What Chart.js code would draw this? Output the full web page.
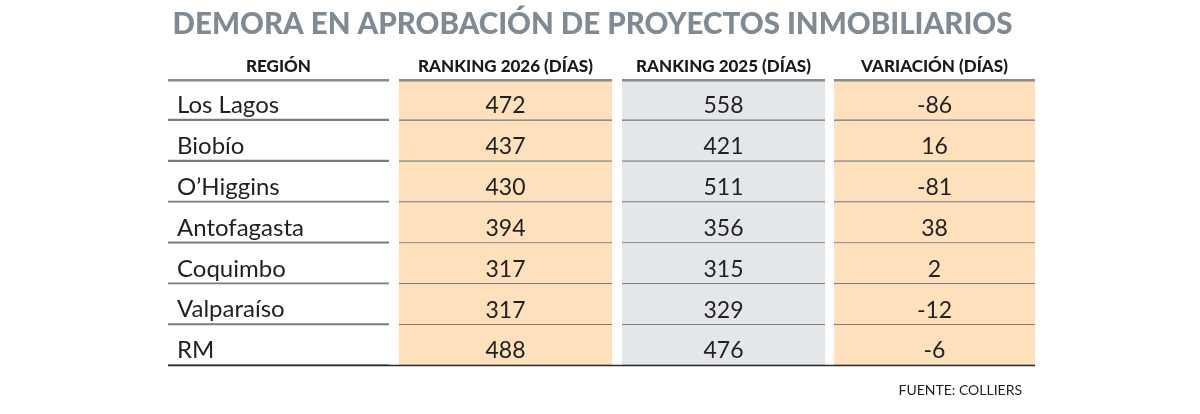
<!DOCTYPE html>
<html>
<head>
<meta charset="utf-8">
<script src="https://cdn.jsdelivr.net/npm/chart.js@4"></script>
<style>
  html, body { margin: 0; padding: 0; background: #fff; }
  #wrap { width: 1200px; height: 414px; }
</style>
</head>
<body>
<div id="wrap"><canvas id="tabla"></canvas></div>
<script>
// datos
const regiones = ['Los Lagos', 'Biobío', 'O\u2019Higgins', 'Antofagasta', 'Coquimbo', 'Valparaíso', 'RM']
const ranking2026 = [472, 437, 430, 394, 317, 317, 488]
const ranking2025 = [558, 421, 511, 356, 315, 329, 476]
const variacion = [-86, 16, -81, 38, 2, -12, -6]
const encabezados = ['REGIÓN', 'RANKING 2026 (DÍAS)', 'RANKING 2025 (DÍAS)', 'VARIACIÓN (DÍAS)']
const titulo = 'DEMORA EN APROBACIÓN DE PROYECTOS INMOBILIARIOS'
const fuente = 'FUENTE: COLLIERS'

// columnas de la tabla, en unidades del eje x
const columnas = [[0, 221], [231, 444], [454, 657], [666, 867]]
const naranja = '#fee0bd'
const gris = '#e4e7ea'

const celdas = (col, color) => ({
    data: regiones.map(() => columnas[col]),
    backgroundColor: color,
    borderColor: '#7c7c7c',
    borderWidth: { bottom: 1.5 },
    borderSkipped: false,
    categoryPercentage: 1,
    barPercentage: 1,
    grouped: false
})

const textoTabla = {
    id: 'textoTabla',
    afterDatasetsDraw(chart) {
        const { ctx, chartArea, scales: { x, y } } = chart
        ctx.save()
        // linea de encabezado
        ctx.strokeStyle = '#8a8a8a'
        ctx.lineWidth = 2.5
        columnas.forEach(c => {
            ctx.beginPath()
            ctx.moveTo(x.getPixelForValue(c[0]), chartArea.top + 0.5)
            ctx.lineTo(x.getPixelForValue(c[1]), chartArea.top + 0.5)
            ctx.stroke()
        })
        // linea final
        ctx.strokeStyle = '#2a2a2a'
        ctx.lineWidth = 1.5
        ctx.beginPath()
        ctx.moveTo(x.getPixelForValue(0), chartArea.bottom - 0.5)
        ctx.lineTo(x.getPixelForValue(867), chartArea.bottom - 0.5)
        ctx.stroke()

        ctx.fillStyle = '#231f20'
        ctx.font = '23px Lato'
        ctx.textAlign = 'center'
        ctx.textBaseline = 'middle'
        const valores = [ranking2026, ranking2025, variacion]
        valores.forEach((serie, k) => {
            const c = columnas[k + 1]
            const cx = x.getPixelForValue((c[0] + c[1]) / 2)
            serie.forEach((v, i) => {
                ctx.fillText(String(v), cx, y.getPixelForValue(i) + 5.5)
            })
        })
        ctx.font = '14px Lato'
        ctx.textAlign = 'right'
        ctx.fillText(fuente, x.getPixelForValue(854), chartArea.bottom + 24)
        ctx.restore()
    }
}

new Chart(document.getElementById('tabla'), {
    type: 'bar',
    data: {
        labels: regiones,
        datasets: [
            celdas(0, 'rgba(255,255,255,0)'),
            celdas(1, naranja),
            celdas(2, gris),
            celdas(3, naranja)
        ]
    },
    options: {
        indexAxis: 'y',
        responsive: true,
        maintainAspectRatio: false,
        animation: false,
        layout: { padding: { left: 150, right: 165, top: 0, bottom: 48 } },
        plugins: {
            legend: { display: false },
            tooltip: { enabled: false },
            title: {
                display: true,
                text: titulo,
                color: '#7f8b94',
                font: { family: 'Lato', size: 29.5, weight: '900' },
                padding: { top: 7, bottom: 11 }
            }
        },
        scales: {
            x: {
                type: 'linear',
                position: 'top',
                min: 0,
                max: 867,
                grid: { display: false, drawTicks: false },
                border: { display: false },
                afterBuildTicks: scale => {
                    scale.ticks = columnas.map(c => ({ value: (c[0] + c[1]) / 2 }))
                },
                ticks: {
                    autoSkip: false,
                    maxRotation: 0,
                    padding: 3,
                    color: '#1a1a1a',
                    font: { family: 'Lato', size: 17, weight: '900' },
                    callback: (v, i) => encabezados[i]
                }
            },
            y: {
                type: 'category',
                z: 1,
                grid: { display: false, drawTicks: false },
                border: { display: false },
                ticks: {
                    mirror: true,
                    padding: 9,
                    labelOffset: 5,
                    color: '#231f20',
                    font: { family: 'Lato', size: 24 }
                }
            }
        }
    },
    plugins: [textoTabla]
})
</script>
</body>
</html>
